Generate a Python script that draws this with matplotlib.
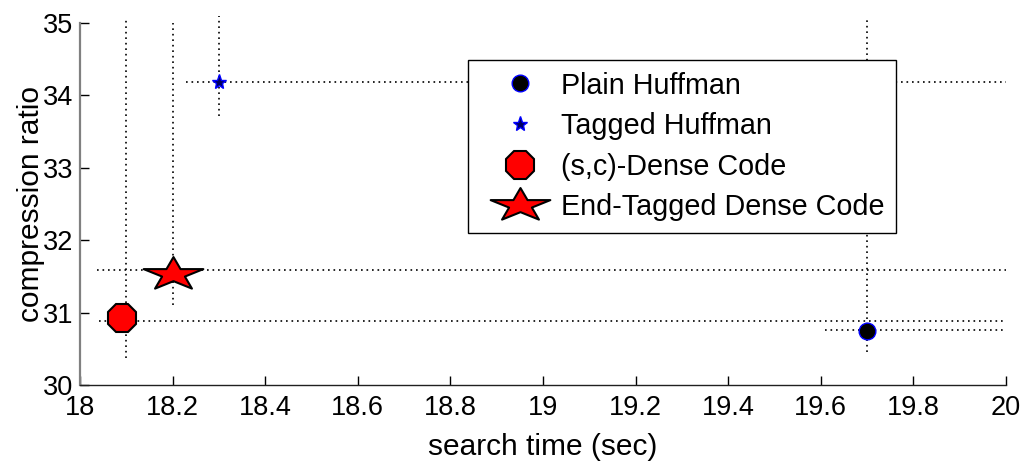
import numpy as np
import matplotlib
matplotlib.use("Agg")
import matplotlib.pyplot as plt
from matplotlib.path import Path

plt.rcParams['font.family'] = ['Liberation Sans', 'DejaVu Sans']

# ---- data ----
names = ["Plain Huffman", "Tagged Huffman", "(s,c)-Dense Code", "End-Tagged Dense Code"]
search_time = [19.70, 18.30, 18.09, 18.20]
comp_ratio = [30.74, 34.19, 30.92, 31.53]

# dotted reference lines (vertical): x, ymin, ymax
vline_x = [19.70, 18.30, 18.10, 18.20]
vline_ymin = [30.46, 33.71, 30.37, 31.10]
vline_ymax = [35.07, 35.10, 35.07, 35.00]
# dotted reference lines (horizontal): y, xmin, xmax
hline_y = [30.76, 34.19, 30.89, 31.59]
hline_xmin = [19.61, 18.23, 18.04, 18.036]
hline_xmax = [20.0, 20.0, 20.0, 20.0]

xticks = [18, 18.2, 18.4, 18.6, 18.8, 19, 19.2, 19.4, 19.6, 19.8, 20]
xticklabels = ["18", "18.2", "18.4", "18.6", "18.8", "19", "19.2", "19.4", "19.6", "19.8", "20"]
yticks = [30, 31, 32, 33, 34, 35]

# stretched pentagram marker (MATLAB-like)
ang = np.pi / 2 + np.arange(10) * np.pi / 5
rad = np.where(np.arange(10) % 2 == 0, 1.0, 0.382)
verts = np.column_stack([1.8 * rad * np.cos(ang), rad * np.sin(ang)])
verts = np.vstack([verts, verts[:1]])
codes = [Path.MOVETO] + [Path.LINETO] * 9 + [Path.CLOSEPOLY]
wide_star = Path(verts, codes)

fig = plt.figure(figsize=(10.22, 4.62), dpi=100)
ax = fig.add_axes([80 / 1022, 1 - 385 / 462, (1006 - 80) / 1022, (385 - 23) / 462])

dot = (0, (1, 2.3))
for x, y0, y1 in zip(vline_x, vline_ymin, vline_ymax):
    ax.plot([x, x], [y0, y1], color='black', lw=1.2, linestyle=dot, clip_on=False, zorder=1)
for y, x0, x1 in zip(hline_y, hline_xmin, hline_xmax):
    ax.plot([x0, x1], [y, y], color='black', lw=1.2, linestyle=dot, clip_on=False, zorder=1)

styles = [
    dict(marker='o', markersize=12, markerfacecolor='black', markeredgecolor='blue', markeredgewidth=1.0),
    dict(marker='*', markersize=11, markerfacecolor='#000060', markeredgecolor='blue', markeredgewidth=1.0),
    dict(marker='8', markersize=22.5, markerfacecolor='red', markeredgecolor='black', markeredgewidth=1.5),
    dict(marker=wide_star, markersize=43, markerfacecolor='red', markeredgecolor='black', markeredgewidth=1.5),
]
for nm, x, y, st in zip(names, search_time, comp_ratio, styles):
    ax.plot([x], [y], linestyle='none', label=nm, clip_on=False, zorder=3, **st)

ax.set_xlim(18, 20)
ax.set_ylim(30, 35)
ax.set_xticks(xticks)
ax.set_xticklabels(xticklabels)
ax.set_yticks(yticks)
ax.tick_params(direction='in', length=6.5, width=1, labelsize=19.5, pad=5, colors='black')
ax.tick_params(axis='x', pad=7)

ax.spines['top'].set_visible(False)
ax.spines['right'].set_visible(False)
ax.spines['left'].set_color('#808080')
ax.spines['left'].set_linewidth(1.6)
ax.spines['bottom'].set_color('#202020')
ax.spines['bottom'].set_linewidth(1.0)

ax.set_xlabel("search time (sec)", fontsize=21.5, labelpad=9)
ax.set_ylabel("compression ratio", fontsize=21.5, labelpad=-2)

leg = ax.legend(loc='upper left', bbox_to_anchor=(468 / 1022, 1 - 60 / 462),
                bbox_transform=fig.transFigure, borderaxespad=0, fontsize=20.7,
                handlelength=2.8, handletextpad=0.05, borderpad=0.4, labelspacing=0.44,
                fancybox=False, framealpha=1, edgecolor='black', numpoints=1)
leg.get_frame().set_linewidth(1.0)
leg.set_zorder(5)

fig.savefig("out.png", dpi=100)
